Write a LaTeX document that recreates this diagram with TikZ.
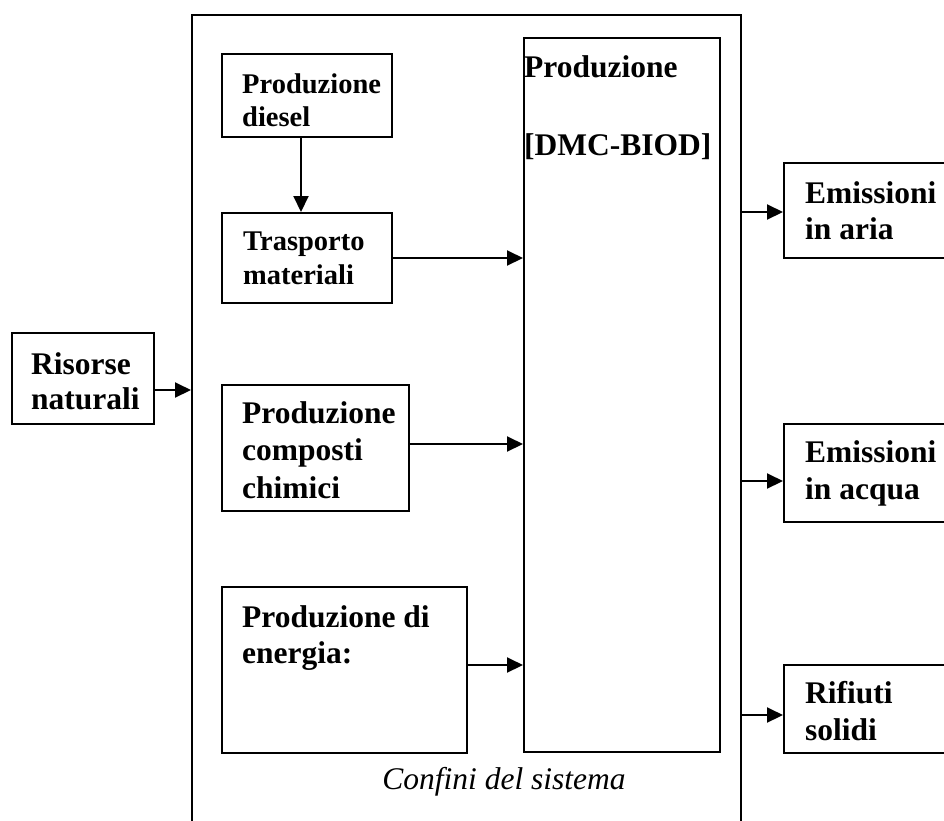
\documentclass[tikz,border=0pt]{standalone}
\usepackage{fontspec}
\setmainfont{Liberation Serif}
\usetikzlibrary{arrows.meta,calc}

\begin{document}
\begin{tikzpicture}[x=1pt,y=-1pt,
  box/.style={draw,line width=2pt,rectangle,inner sep=0pt,anchor=north west},
  lbl/.style={anchor=base west,inner sep=0pt,align=left,font=\fontsize{31.5}{37.5}\selectfont\bfseries},
  lblsm/.style={anchor=base west,inner sep=0pt,align=left,font=\fontsize{28.5}{33}\selectfont\bfseries},
  arr/.style={line width=2pt,-{Triangle[length=16pt,width=15pt]}}]
  \useasboundingbox (0,0) rectangle (944,820);
  \clip (0,0) rectangle (944,820);

  % system boundary
  \node[box,minimum width=549pt,minimum height=830pt] (sys) at (191,14) {};

  % processes inside the boundary
  \node[box,minimum width=170pt,minimum height=83pt] (diesel) at (221,53) {};
  \node[box,minimum width=170pt,minimum height=90pt] (trasp) at (221,212) {};
  \node[box,minimum width=187pt,minimum height=126pt] (comp) at (221,384) {};
  \node[box,minimum width=245pt,minimum height=166pt] (ener) at (221,586) {};
  \node[box,minimum width=196pt,minimum height=714pt] (dmc) at (523,37) {};

  % input and outputs
  \node[box,minimum width=142pt,minimum height=91pt] (ris) at (11,332) {};
  \node[box,minimum width=180pt,minimum height=95pt] (aria) at (783,162) {};
  \node[box,minimum width=180pt,minimum height=98pt] (acqua) at (783,423) {};
  \node[box,minimum width=180pt,minimum height=88pt] (rif) at (783,664) {};

  % labels (placed by the baseline of their last line)
  \node[lblsm] (tdiesel) at (242,126) {Produzione\\diesel};
  \node[lblsm,font=\fontsize{28.5}{34}\selectfont\bfseries] (ttrasp) at (243,284) {Trasporto\\materiali};
  \node[lbl] (tcomp) at (242,498) {Produzione\\composti\\chimici};
  \node[lbl,font=\fontsize{31.5}{36}\selectfont\bfseries] (tener) at (242,663) {Produzione di\\energia:};
  \node[lbl,font=\fontsize{31.5}{78}\selectfont\bfseries] (tdmc) at (524,155) {Produzione\\{[DMC-BIOD]}};
  \node[lbl,font=\fontsize{31.5}{35}\selectfont\bfseries] (tris) at (31,409) {Risorse\\naturali};
  \node[lbl,font=\fontsize{31.5}{36}\selectfont\bfseries] (taria) at (805,239) {Emissioni\\in aria};
  \node[lbl,font=\fontsize{31.5}{37}\selectfont\bfseries] (tacqua) at (805,499) {Emissioni\\in acqua};
  \node[lbl,font=\fontsize{31.5}{37}\selectfont\bfseries] (trif) at (805,740) {Rifiuti\\solidi};
  \node[anchor=base,inner sep=0pt,font=\fontsize{31.5}{36}\selectfont\itshape] (confini) at (504,789) {Confini del sistema};

  % connector anchor points
  \coordinate (dtop) at ($(diesel.south)+(-6,0)$);
  \coordinate (cin) at ($(comp.east)+(0,-4)$);
  \coordinate (ein) at ($(ener.east)+(0,-5)$);
  \coordinate (rin) at ($(ris.east)+(0,11.5)$);
  \coordinate (ain) at ($(aria.west)+(0,1.5)$);
  \coordinate (qin) at ($(acqua.west)+(0,8)$);
  \coordinate (sin) at ($(rif.west)+(0,6)$);

  % connectors
  \draw[arr] (dtop) -- (dtop |- trasp.north);
  \draw[arr] (trasp.east) -- (trasp.east -| dmc.west);
  \draw[arr] (cin) -- (cin -| dmc.west);
  \draw[arr] (ein) -- (ein -| dmc.west);
  \draw[arr] (rin) -- (rin -| sys.west);
  \draw[arr] (ain -| sys.east) -- (ain);
  \draw[arr] (qin -| sys.east) -- (qin);
  \draw[arr] (sin -| sys.east) -- (sin);
\end{tikzpicture}
\end{document}
